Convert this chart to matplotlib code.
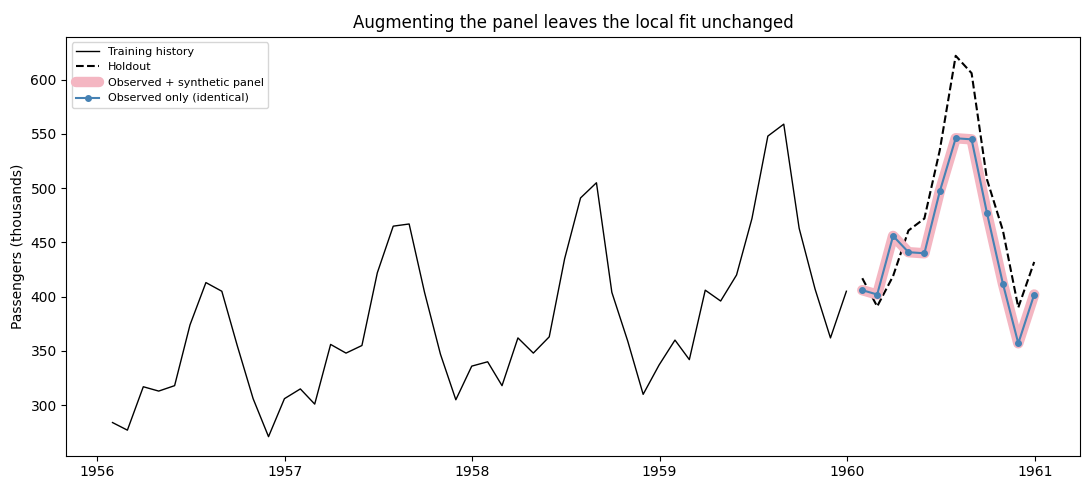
import numpy as np
import pandas as pd
import matplotlib.pyplot as plt

# monthly airline passengers, 1956-1959 training, 1960 holdout
train_vals = [284, 277, 317, 313, 318, 374, 413, 405, 355, 306, 271, 306,
              315, 301, 356, 348, 355, 422, 465, 467, 404, 347, 305, 336,
              340, 318, 362, 348, 363, 435, 491, 505, 404, 359, 310, 337,
              360, 342, 406, 396, 420, 472, 548, 559, 463, 407, 362, 405]
holdout_vals = [417, 391, 419, 461, 472, 535, 622, 606, 508, 461, 390, 432]
# local fit forecasts (same for both panels)
forecast_vals = [406, 402, 456, 441, 440, 497, 546, 545, 477, 412, 357, 402]

train_dates = pd.date_range("1956-01-31", periods=len(train_vals), freq="ME")
hold_dates = pd.date_range("1960-01-31", periods=len(holdout_vals), freq="ME")

fig, ax = plt.subplots(figsize=(10.89, 4.9), dpi=100)
ax.plot(train_dates, train_vals, color="black", lw=1, label="Training history")
ax.plot(hold_dates, holdout_vals, color="black", ls="--", lw=1.5, label="Holdout")
ax.plot(hold_dates, forecast_vals, color="#f4b6c2", lw=7.5, solid_capstyle="round",
        label="Observed + synthetic panel")
ax.plot(hold_dates, forecast_vals, color="steelblue", lw=1.5, marker="o", ms=4,
        label="Observed only (identical)")

ax.set_ylabel("Passengers (thousands)")
ax.set_title("Augmenting the panel leaves the local fit unchanged")
ax.legend(loc="upper left", fontsize=8)
fig.subplots_adjust(left=0.061, right=0.992, top=0.925, bottom=0.07)
fig.savefig("out.png")
